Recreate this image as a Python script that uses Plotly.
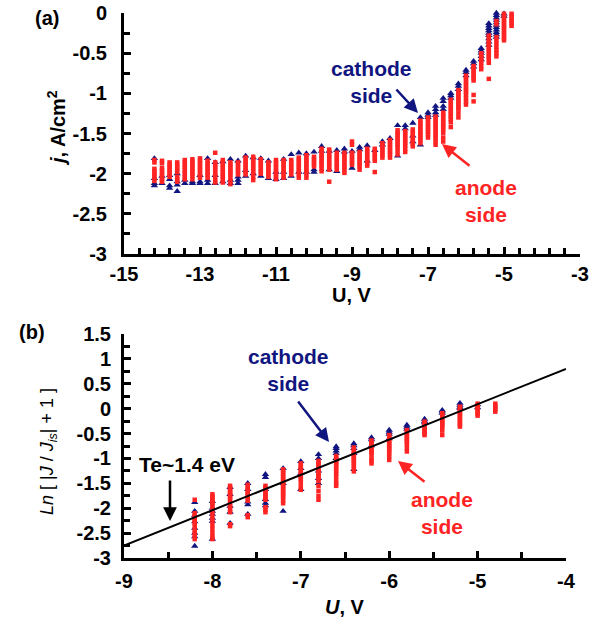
import plotly.graph_objects as go

# ---------------- data: panel (a) ----------------
top_u = [-14.2, -14.0, -13.8, -13.6, -13.4, -13.2, -13.0, -12.8, -12.6, -12.4,
         -12.2, -12.0, -11.8, -11.6, -11.4, -11.2, -11.0, -10.8, -10.6, -10.4,
         -10.2, -10.0, -9.8, -9.6, -9.4, -9.2, -9.0, -8.8, -8.6, -8.4,
         -8.2, -8.0, -7.8, -7.6, -7.4, -7.2, -7.0, -6.8, -6.6, -6.4,
         -6.2, -6.0, -5.8, -5.6, -5.4, -5.2, -5.0, -4.8]

top_anode = [
    [-1.83, -1.86, -1.94, -1.97, -2.0, -2.03, -2.06, -2.09],
    [-1.84, -1.87, -1.93, -1.96, -1.99, -2.02, -2.05, -2.08, -2.1],
    [-1.86, -1.89, -1.92, -1.95, -1.98, -2.01, -2.04],
    [-1.86, -1.89, -1.92, -1.95, -1.98, -2.04, -2.07, -2.1],
    [-1.83, -1.86, -1.89, -1.92, -1.95, -1.98, -2.01, -2.04, -2.07],
    [-1.82, -1.85, -1.88, -1.91, -1.94, -1.97, -2.0, -2.03, -2.07],
    [-1.81, -1.84, -1.87, -1.9, -1.93, -1.96, -1.99, -2.02, -2.05],
    [-1.84, -1.87, -1.9, -1.93, -1.96, -1.99, -2.02, -2.05],
    [-1.74, -1.86, -1.89, -1.92, -1.95, -1.98, -2.01, -2.04, -2.08, -2.11],
    [-1.83, -1.86, -1.89, -1.92, -1.95, -1.98, -2.01, -2.04, -2.07, -2.11],
    [-1.86, -1.89, -1.92, -1.95, -1.98, -2.01, -2.05, -2.09, -2.13],
    [-1.86, -1.89, -1.92, -1.95, -1.98, -2.01],
    [-1.8, -1.83, -1.86, -1.89, -1.92, -1.95, -1.98, -2.01],
    [-1.79, -1.82, -1.85, -1.88, -1.91, -1.94, -1.97, -2.0, -2.04, -2.08],
    [-1.82, -1.85, -1.88, -1.91, -1.94, -1.97, -2.0],
    [-1.86, -1.89, -1.92, -1.95, -1.98, -2.01, -2.04],
    [-1.83, -1.86, -1.89, -1.92, -1.95, -1.98, -2.01, -2.04, -2.07],
    [-1.83, -1.86, -1.89, -1.92, -1.95, -1.98, -2.01, -2.05],
    [-1.83, -1.86, -1.89, -1.92, -1.95, -1.98, -2.01],
    [-1.8, -1.83, -1.86, -1.89, -1.92, -1.95, -1.98, -2.01, -2.05],
    [-1.77, -1.8, -1.83, -1.86, -1.89, -1.92, -1.95, -1.98, -2.01, -2.05],
    [-1.79, -1.82, -1.85, -1.88, -1.91],
    [-1.69, -1.72, -1.75, -1.78, -1.81, -1.84, -1.87, -1.9, -1.94, -1.97],
    [-1.7, -1.73, -1.76, -1.79, -1.82, -1.85, -1.88, -1.91, -1.95, -2.1],
    [-1.74, -1.77, -1.8, -1.83, -1.86, -1.89, -1.92, -1.95],
    [-1.74, -1.77, -1.8, -1.83, -1.86, -1.89, -1.92, -1.95, -1.99],
    [-1.6, -1.64, -1.74, -1.77, -1.8, -1.83, -1.86, -1.89],
    [-1.73, -1.76, -1.79, -1.82, -1.85, -1.88, -1.91, -1.95],
    [-1.69, -1.72, -1.75, -1.78, -1.81, -1.84, -1.87, -1.9],
    [-1.69, -1.72, -1.75, -1.78, -1.81, -1.84, -1.98],
    [-1.62, -1.65, -1.68, -1.71, -1.74, -1.77, -1.8],
    [-1.58, -1.61, -1.64, -1.67, -1.7, -1.73, -1.76, -1.8],
    [-1.46, -1.49, -1.52, -1.55, -1.58, -1.61, -1.64, -1.67, -1.71, -1.76],
    [-1.47, -1.5, -1.53, -1.56, -1.59, -1.62, -1.65, -1.69, -1.73],
    [-1.45, -1.48, -1.51, -1.54, -1.57, -1.6, -1.63, -1.66],
    [-1.34, -1.37, -1.4, -1.43, -1.46, -1.49, -1.52, -1.55, -1.58, -1.62],
    [-1.3, -1.33, -1.36, -1.39, -1.42, -1.45, -1.48, -1.51, -1.55],
    [-1.29, -1.32, -1.35, -1.38, -1.41, -1.44, -1.47, -1.5, -1.53, -1.56, -1.6, -1.64],
    [-1.24, -1.27, -1.3, -1.33, -1.36, -1.39, -1.42, -1.45, -1.49, -1.55, -1.6],
    [-1.08, -1.11, -1.14, -1.17, -1.2, -1.23, -1.26, -1.29, -1.32, -1.36, -1.42],
    [-0.96, -0.99, -1.02, -1.05, -1.08, -1.11, -1.14, -1.17, -1.2, -1.25, -1.3],
    [-0.78, -0.81, -0.84, -0.87, -0.9, -0.93, -0.96, -0.99, -1.02, -1.06, -1.1, -1.14],
    [-0.66, -0.69, -0.72, -0.75, -0.78, -0.81, -0.84, -1.02, -1.1],
    [-0.5, -0.53, -0.56, -0.59, -0.62, -0.66, -0.7],
    [-0.28, -0.31, -0.34, -0.37, -0.4, -0.43, -0.46, -0.49, -0.52, -0.55, -0.58, -0.62, -0.82],
    [-0.1, -0.14, -0.3, -0.34, -0.38, -0.42, -0.46, -0.5, -0.54],
    [-0.01, -0.04, -0.07, -0.1, -0.13, -0.16, -0.19, -0.22, -0.25, -0.28, -0.31, -0.34],
    [-0.01, -0.04, -0.07, -0.1, -0.13, -0.16],
]

top_cathode = [
    [-1.81, -2.06, -2.12, -2.15],
    [-2.03, -2.12],
    [-2.02, -2.07, -2.15, -2.18],
    [-2.0, -2.1, -2.14, -2.22],
    [-2.08, -2.12],
    [-2.1, -2.12],
    [-2.02, -2.1, -2.12],
    [-1.81, -2.08, -2.12],
    [-1.86, -2.02, -2.12],
    [-1.85, -2.1],
    [-1.82, -2.08, -2.12],
    [-1.84, -2.04, -2.08, -2.12],
    [-1.78, -1.96, -2.03],
    [-1.8, -2.0],
    [-1.81, -2.03],
    [-1.84, -2.06],
    [-1.98, -2.07],
    [-1.82, -1.98, -2.06],
    [-1.76, -2.03],
    [-1.74, -1.98],
    [-1.75, -1.98],
    [-1.73, -1.95, -1.98],
    [-1.66, -1.72],
    [-1.72, -1.95],
    [-1.71, -1.97],
    [-1.69, -1.73],
    [-1.72, -1.93],
    [-1.67, -1.7],
    [-1.65, -1.84],
    [-1.71],
    [-1.6, -1.64],
    [-1.56],
    [-1.4, -1.78],
    [-1.4, -1.44],
    [-1.37, -1.53, -1.6],
    [-1.3, -1.64],
    [-1.24, -1.27, -1.3],
    [-1.16, -1.2, -1.24, -1.27],
    [-1.06, -1.1, -1.16, -1.2],
    [-1.0, -1.03, -1.06],
    [-0.88, -0.91, -0.95],
    [-0.71, -0.74, -0.78],
    [-0.6, -0.63, -0.67],
    [-0.44, -0.47, -0.5, -0.54, -0.58],
    [-0.13, -0.16, -0.19, -0.22, -0.25, -0.28, -0.32, -0.36, -0.4],
    [0.0, -0.03, -0.06, -0.09, -0.12, -0.15, -0.18, -0.21, -0.24, -0.27, -0.3],
    [-0.01, -0.04],
    [],
]

# ---------------- data: panel (b) ----------------
bot_u = [-8.2, -8.0, -7.8, -7.6, -7.4, -7.2, -7.0, -6.8, -6.6, -6.4,
         -6.2, -6.0, -5.8, -5.6, -5.4, -5.2, -5.0, -4.8]

bot_anode = [
    [-1.83, -2.1, -2.14, -2.18, -2.22, -2.26, -2.3, -2.36, -2.44, -2.5, -2.56, -2.62],
    [-1.72, -1.76, -1.8, -1.84, -1.88, -1.92, -1.96, -2.02, -2.1, -2.18, -2.26, -2.34, -2.42, -2.5, -2.57, -2.62],
    [-1.55, -1.59, -1.63, -1.67, -1.71, -1.75, -1.79, -1.84, -1.9, -1.96, -2.02, -2.08, -2.32, -2.36],
    [-1.53, -1.57, -1.61, -1.65, -1.69, -1.73, -1.77, -1.81, -1.85, -2.14, -2.18],
    [-1.55, -1.59, -1.63, -1.67, -1.71, -1.75, -1.79, -1.83, -1.98, -2.03, -2.08],
    [-1.22, -1.26, -1.3, -1.34, -1.38, -1.42, -1.46, -1.5, -1.54, -1.58, -1.62, -1.66, -1.7, -1.74, -1.78, -1.84, -1.9],
    [-1.1, -1.14, -1.18, -1.22, -1.26, -1.3, -1.34, -1.38, -1.42, -1.48, -1.56, -1.63],
    [-1.05, -1.09, -1.13, -1.17, -1.21, -1.25, -1.29, -1.33, -1.37, -1.41, -1.45, -1.55, -1.65, -1.75, -1.83],
    [-0.95, -0.99, -1.03, -1.07, -1.11, -1.15, -1.2, -1.25, -1.3, -1.36, -1.44, -1.5, -1.55],
    [-0.78, -0.82, -0.86, -0.9, -0.94, -0.98, -1.02, -1.06, -1.1, -1.15, -1.2, -1.26],
    [-0.64, -0.68, -0.72, -0.76, -0.8, -0.84, -0.88, -0.92, -1.0, -1.05, -1.1],
    [-0.53, -0.57, -0.61, -0.65, -0.69, -0.73, -0.77, -0.81, -0.85, -0.9, -0.96, -1.03],
    [-0.43, -0.47, -0.51, -0.55, -0.59, -0.63, -0.67, -0.72, -0.79, -0.86],
    [-0.26, -0.3, -0.34, -0.38, -0.42, -0.46, -0.5, -0.53],
    [-0.09, -0.13, -0.17, -0.21, -0.25, -0.29, -0.33, -0.37, -0.44, -0.53],
    [0.04, 0.0, -0.04, -0.08, -0.12, -0.16, -0.2, -0.24, -0.28, -0.32, -0.36],
    [0.1, 0.06, 0.02, -0.02, -0.06, -0.1, -0.14],
    [0.1, 0.06, 0.02, -0.02, -0.06],
]

bot_cathode = [
    [-1.88, -2.06, -2.14, -2.27, -2.4, -2.5, -2.57, -2.76],
    [-1.86, -2.0, -2.06, -2.12, -2.2, -2.26, -2.62],
    [-1.58, -1.72, -1.96, -2.08, -2.3],
    [-1.5, -1.62, -1.87, -1.93, -2.12],
    [-1.32, -1.38, -1.62, -1.82, -1.9, -1.95],
    [-1.2, -1.5, -2.06],
    [-1.06, -1.2, -1.3, -1.62],
    [-0.92, -1.0, -1.25, -1.4, -1.5],
    [-0.76, -0.8, -0.85, -0.9, -1.0],
    [-0.7, -0.74, -0.8, -0.9, -1.22],
    [-0.58, -0.62, -0.74],
    [-0.43, -0.47, -0.51, -0.6],
    [-0.33, -0.37, -0.41],
    [-0.21, -0.25, -0.28],
    [-0.03, -0.06, -0.09],
    [0.11, 0.07, 0.03, 0.01],
    [0.08, 0.02],
    [],
]

# fitted line (Te ~ 1.4 eV)
fit_u = [-9.0, -4.0]
fit_ln = [-2.75, 0.8]

top_xticks = [-15, -13, -11, -9, -7, -5, -3]
top_yticks = [0, -0.5, -1, -1.5, -2, -2.5, -3]
bot_xticks = [-9, -8, -7, -6, -5, -4]
bot_yticks = [1.5, 1, 0.5, 0, -0.5, -1, -1.5, -2, -2.5, -3]


def flatten(us, groups):
    xs, ys = [], []
    for u, g in zip(us, groups):
        for v in g:
            xs.append(u)
            ys.append(v)
    return xs, ys


def lab(v):
    return "%g" % v


NAVY = "#101580"
RED = "#ff2424"
FONT = "Liberation Sans"
W, H = 597, 620


def px(x):
    return x / W


def py(y):
    return 1 - y / H


fig = go.Figure()

cx, cy = flatten(top_u, top_cathode)
ax_, ay_ = flatten(top_u, top_anode)
fig.add_trace(go.Scatter(x=cx, y=cy, mode="markers", xaxis="x", yaxis="y",
                         marker=dict(symbol="triangle-up", size=6.5, color=NAVY, line=dict(width=0)),
                         cliponaxis=False, showlegend=False))
fig.add_trace(go.Scatter(x=ax_, y=ay_, mode="markers", xaxis="x", yaxis="y",
                         marker=dict(symbol="square", size=4.5, color=RED, line=dict(width=0)),
                         cliponaxis=False, showlegend=False))

bcx, bcy = flatten(bot_u, bot_cathode)
bax, bay = flatten(bot_u, bot_anode)
fig.add_trace(go.Scatter(x=bcx, y=bcy, mode="markers", xaxis="x2", yaxis="y2",
                         marker=dict(symbol="triangle-up", size=6.5, color=NAVY, line=dict(width=0)),
                         cliponaxis=False, showlegend=False))
fig.add_trace(go.Scatter(x=bax, y=bay, mode="markers", xaxis="x2", yaxis="y2",
                         marker=dict(symbol="square", size=4.5, color=RED, line=dict(width=0)),
                         cliponaxis=False, showlegend=False))
fig.add_trace(go.Scatter(x=fit_u, y=fit_ln, mode="lines", xaxis="x2", yaxis="y2",
                         line=dict(color="black", width=2), showlegend=False))

tickfont = dict(family=FONT, size=20, color="black", weight="bold")
common = dict(showline=True, linewidth=3, linecolor="black", ticks="inside",
              ticklen=7, tickwidth=2.5, tickcolor="black", showgrid=False,
              zeroline=False, tickfont=tickfont, mirror=False, automargin=False)
minor_common = dict(ticks="inside", ticklen=6, tickwidth=2.5, tickcolor="black", showgrid=False)

fig.update_layout(
    width=W, height=H, margin=dict(l=0, r=0, t=0, b=0, autoexpand=False),
    paper_bgcolor="white", plot_bgcolor="white", showlegend=False,
    xaxis=dict(domain=[px(124), px(580)], range=[-15, -3], anchor="y",
               tickvals=top_xticks, ticktext=[lab(v) for v in top_xticks],
               ticklabelstandoff=0,
               minor=dict(dtick=0.4, tick0=-15, **minor_common),
               **common),
    yaxis=dict(domain=[py(254), py(13)], range=[-3, 0], anchor="x",
               tickvals=top_yticks, ticktext=[lab(v) for v in top_yticks],
               ticklabelstandoff=10,
               minor=dict(dtick=0.25, tick0=0, **minor_common),
               **common),
    xaxis2=dict(domain=[px(124), px(566)], range=[-9, -4], anchor="y2",
                tickvals=bot_xticks, ticktext=[lab(v) for v in bot_xticks],
                ticklabelstandoff=3,
                minor=dict(dtick=0.5, tick0=-9, **minor_common),
                **common),
    yaxis2=dict(domain=[py(558), py(334)], range=[-3, 1.5], anchor="x2",
                tickvals=bot_yticks, ticktext=[lab(v) for v in bot_yticks],
                ticklabelstandoff=6,
                minor=dict(dtick=0.25, tick0=0, **minor_common),
                **common),
)


def bold(sz, col="black"):
    return dict(family=FONT, size=sz, color=col, weight="bold")


def text(t, x, y, font, angle=0):
    fig.add_annotation(text=t, x=px(x), y=py(y), xref="paper", yref="paper",
                       showarrow=False, font=font, textangle=angle,
                       xanchor="center", yanchor="middle")


def arrow(tail, tip, color):
    fig.add_annotation(text="", x=px(tip[0]), y=py(tip[1]), xref="paper", yref="paper",
                       ax=tail[0] - tip[0], ay=tail[1] - tip[1], axref="pixel", ayref="pixel",
                       showarrow=True, arrowhead=2, arrowsize=1.1, arrowwidth=2.5,
                       arrowcolor=color)


# panel labels and titles
text("(a)", 47, 18, bold(20))
text("(b)", 32, 332, bold(20))
text("<i>j</i>, A/cm<sup>2</sup>", 57, 128, bold(20), angle=-90)
text("U, V", 352, 295, bold(20))
text("<i>U</i>, V", 345, 607, bold(20))
text("<i>Ln</i> [ |<i>J</i> / <i>J</i><sub><i>is</i></sub>| + 1 ]", 48, 452,
     dict(family=FONT, size=18, color="black"), angle=-90)

# panel (a) annotations
text("cathode<br>side", 371, 82, bold(21, NAVY))
arrow((395, 88), (418, 113), NAVY)
text("anode<br>side", 486, 201, bold(21, RED))
arrow((471, 167), (442, 144), RED)

# panel (b) annotations
text("cathode<br>side", 288, 370, bold(21, NAVY))
arrow((297, 400), (329, 442), NAVY)
text("anode<br>side", 442, 513, bold(21, RED))
arrow((426, 483), (398, 461), RED)
text("Te~1.4 eV", 187, 464, bold(21))
arrow((170, 479), (170, 521), "black")

fig.write_html("out.html")
